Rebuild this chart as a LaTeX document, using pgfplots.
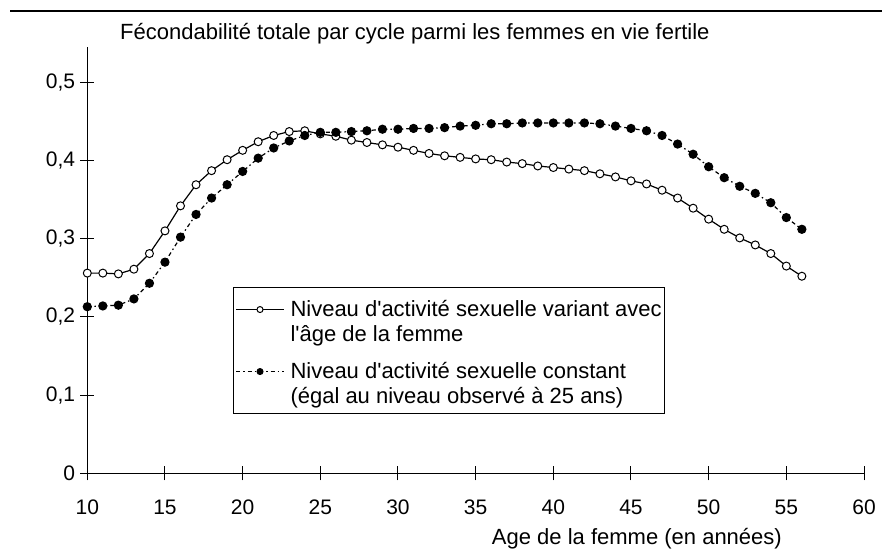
\documentclass[border=0pt]{standalone}
\usepackage{fontspec}
\setmainfont{Liberation Sans}[Ligatures=TeXOff]
\usepackage{pgfplots}
\pgfplotsset{compat=1.18}
\usepackage{pgfplotstable}

\pgfplotstableread{
age val
10 0.256
11 0.256
12 0.255
13 0.261
14 0.281
15 0.310
16 0.342
17 0.369
18 0.387
19 0.401
20 0.413
21 0.424
22 0.432
23 0.437
24 0.438
25 0.434
26 0.431
27 0.426
28 0.423
29 0.420
30 0.417
31 0.413
32 0.409
33 0.406
34 0.404
35 0.402
36 0.401
37 0.398
38 0.396
39 0.393
40 0.391
41 0.389
42 0.387
43 0.383
44 0.379
45 0.374
46 0.370
47 0.362
48 0.352
49 0.339
50 0.325
51 0.312
52 0.301
53 0.292
54 0.281
55 0.265
56 0.252
}\varying

\pgfplotstableread{
age val
10 0.213
11 0.214
12 0.215
13 0.223
14 0.243
15 0.270
16 0.302
17 0.331
18 0.352
19 0.369
20 0.386
21 0.403
22 0.416
23 0.425
24 0.432
25 0.436
26 0.436
27 0.437
28 0.438
29 0.440
30 0.440
31 0.441
32 0.441
33 0.442
34 0.444
35 0.445
36 0.447
37 0.447
38 0.448
39 0.448
40 0.448
41 0.448
42 0.448
43 0.447
44 0.444
45 0.441
46 0.438
47 0.432
48 0.421
49 0.408
50 0.392
51 0.378
52 0.367
53 0.358
54 0.346
55 0.327
56 0.312
}\constant

\begin{document}
\begin{tikzpicture}[x=1pt,y=1pt,font=\fontsize{22pt}{25pt}\selectfont]
\useasboundingbox (0,0) rectangle (882,557);
\draw[line width=2pt] (10,546) -- (882,546);
\node[anchor=base west, inner sep=0pt] at (120,517) {Fécondabilité totale par cycle parmi les femmes en vie fertile};
\node[anchor=base east, inner sep=0pt] at (782,13) {Age de la femme (en années)};
\begin{axis}[
  at={(87.3pt,83.7pt)}, anchor=south west,
  scale only axis, width=776.7pt, height=426.2pt,
  xmin=10, xmax=60, ymin=0, ymax=0.545,
  axis x line*=bottom, axis y line*=left,
  axis line style={line width=1pt, black},
  xtick={10,15,...,60}, ytick={0,0.1,0.2,0.3,0.4,0.5},
  tick align=outside, major tick length=14pt,
  tick style={line width=1pt, black},
  every major x tick/.append style={yshift=7pt},
  every major y tick/.append style={xshift=7pt},
  /pgf/number format/assume math mode=true,
  ticklabel style={font=\fontsize{21pt}{24pt}\selectfont},
  xticklabel style={anchor=north, inner sep=0pt, yshift=-12.5pt},
  yticklabel style={anchor=east, inner sep=0pt, xshift=2pt,
    /pgf/number format/.cd, use comma, fixed, precision=1},
  clip=false,
  legend style={at={(0.1876,0.437)}, anchor=north west, draw=black, line width=1pt,
    inner xsep=2pt, inner ysep=2pt, column sep=5pt, row sep=0pt,
    cells={anchor=base west},
    nodes={inner xsep=1pt, inner ysep=0pt, text height=20pt, text depth=5pt}},
  legend image code/.code={\draw[mark repeat=2, mark phase=2, mark size=3pt, line width=1pt]
     plot coordinates {(0pt,7pt) (24pt,7pt) (48pt,7pt)};},
]
\addplot[black, line width=1.2pt, mark=*, mark size=4pt,
  mark options={fill=white, solid, line width=1pt}] table[x=age, y=val]{\varying};
\addlegendentry[text height=27pt]{Niveau d'activité sexuelle variant avec}
\addlegendimage{empty legend}
\addlegendentry[text depth=17pt]{l'âge de la femme}
\addplot[black, line width=1.2pt, dash pattern=on 4pt off 3pt on 1.5pt off 3pt, mark=*, mark size=4pt,
  mark options={fill=black, solid}] table[x=age, y=val]{\constant};
\addlegendentry{Niveau d'activité sexuelle constant}
\addlegendimage{empty legend}
\addlegendentry[text depth=8pt]{(égal au niveau observé à 25 ans)}
\end{axis}
\end{tikzpicture}
\end{document}
